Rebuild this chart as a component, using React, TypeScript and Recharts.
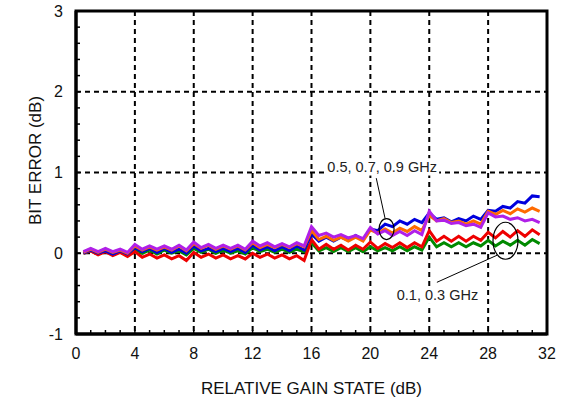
import React from 'react';
import { LineChart, Line, XAxis, YAxis, ReferenceLine, ReferenceDot, ReferenceArea, CartesianGrid } from 'recharts';

const gainState = [0.5,1,1.5,2,2.5,3,3.5,4,4.5,5,5.5,6,6.5,7,7.5,8,8.5,9,9.5,10,10.5,11,11.5,12,12.5,13,13.5,14,14.5,15,15.5,16,16.5,17,17.5,18,18.5,19,19.5,20,20.5,21,21.5,22,22.5,23,23.5,24,24.5,25,25.5,26,26.5,27,27.5,28,28.5,29,29.5,30,30.5,31,31.5];

const err01 = [0.00,0.03,-0.02,0.02,-0.03,0.01,-0.04,0.02,-0.05,-0.01,-0.06,-0.02,-0.07,-0.03,-0.09,0.01,-0.05,-0.01,-0.06,-0.02,-0.07,-0.03,-0.07,0.00,-0.05,-0.01,-0.06,-0.02,-0.07,-0.03,-0.09,0.17,0.05,0.11,0.05,0.10,0.04,0.10,0.05,0.14,0.06,0.12,0.07,0.13,0.07,0.13,0.08,0.28,0.15,0.21,0.15,0.21,0.15,0.21,0.16,0.26,0.19,0.27,0.20,0.28,0.21,0.29,0.23];
const err03 = [0.00,0.03,-0.01,0.03,-0.01,0.02,-0.02,0.05,0.00,0.04,-0.01,0.04,0.00,0.03,-0.02,0.06,0.01,0.05,0.00,0.04,0.00,0.03,-0.01,0.07,0.02,0.05,0.01,0.05,0.01,0.05,0.02,0.13,0.03,0.07,0.02,0.07,0.02,0.07,0.02,0.08,0.03,0.07,0.03,0.08,0.03,0.08,0.04,0.20,0.08,0.13,0.08,0.13,0.08,0.13,0.09,0.16,0.09,0.15,0.10,0.16,0.10,0.17,0.12];
const err05 = [0.00,0.04,0.00,0.03,-0.01,0.03,-0.01,0.07,0.02,0.06,0.01,0.06,0.01,0.05,0.00,0.09,0.03,0.06,0.02,0.06,0.02,0.06,0.01,0.10,0.04,0.08,0.03,0.08,0.03,0.09,0.04,0.24,0.15,0.20,0.15,0.20,0.16,0.22,0.17,0.30,0.28,0.36,0.33,0.40,0.36,0.42,0.38,0.50,0.42,0.44,0.39,0.43,0.40,0.46,0.42,0.53,0.52,0.58,0.56,0.64,0.62,0.71,0.70];
const err07 = [0.01,0.05,0.01,0.05,0.01,0.04,0.00,0.09,0.04,0.08,0.04,0.08,0.04,0.09,0.03,0.12,0.06,0.10,0.05,0.09,0.05,0.09,0.04,0.13,0.07,0.11,0.07,0.11,0.07,0.12,0.08,0.28,0.17,0.21,0.16,0.20,0.15,0.20,0.15,0.29,0.25,0.30,0.25,0.31,0.27,0.33,0.28,0.47,0.40,0.43,0.38,0.40,0.36,0.40,0.36,0.52,0.48,0.53,0.49,0.55,0.51,0.56,0.52];
const err09 = [0.02,0.06,0.02,0.06,0.02,0.05,0.01,0.11,0.05,0.09,0.05,0.09,0.05,0.10,0.04,0.14,0.07,0.11,0.06,0.10,0.06,0.10,0.05,0.15,0.09,0.13,0.08,0.12,0.08,0.13,0.09,0.33,0.22,0.25,0.20,0.23,0.19,0.22,0.18,0.32,0.24,0.28,0.22,0.27,0.22,0.28,0.23,0.52,0.40,0.41,0.37,0.38,0.34,0.36,0.32,0.50,0.45,0.46,0.42,0.44,0.40,0.42,0.38];

const xTicks = [0,1,2,3,4,5,6,7,8,9,10,11,12,13,14,15,16,17,18,19,20,21,22,23,24,25,26,27,28,29,30,31,32];
const yTicks = [-1,-0.8,-0.6,-0.4,-0.2,0,0.2,0.4,0.6,0.8,1,1.2,1.4,1.6,1.8,2,2.2,2.4,2.6,2.8,3];
const xGrid = [4,8,12,16,20,24,28];
const yGrid = [0,1,2];

const data = gainState.map((g, i) => ({
  g,
  f01: err01[i],
  f03: err03[i],
  f05: err05[i],
  f07: err07[i],
  f09: err09[i],
}));

const FONT = '"Liberation Sans", Arial, Helvetica, sans-serif';

const txt = (label: string, size: number, w: number) => (p: any) => (
  <g>
    <rect x={p.cx - w / 2} y={p.cy - size * 0.6} width={w} height={size * 1.2} fill="#fff" />
    <text x={p.cx} y={p.cy} textAnchor="middle" dominantBaseline="central" fontFamily={FONT} fontSize={size} fill="#222">{label}</text>
  </g>
);
const ell = (rx: number, ry: number) => (p: any) => (
  <ellipse cx={p.cx} cy={p.cy} rx={rx} ry={ry} fill="none" stroke="#000" strokeWidth={1.2} />
);

export default function App() {
  return (
    <div style={{ position: 'absolute', left: 0, top: 0, width: 564, height: 402, background: '#fff' }}>
      <LineChart width={564} height={402} data={data} margin={{ top: 11, right: 17, left: 0, bottom: 0 }}>
        <CartesianGrid
          horizontalValues={yGrid}
          verticalValues={xGrid}
          stroke="#000"
          strokeWidth={2}
          strokeDasharray="5 4"
        />
        <XAxis
          dataKey="g"
          type="number"
          domain={[0, 32]}
          ticks={xTicks}
          interval={0}
          height={68}
          tickSize={-4}
          tickMargin={18}
          axisLine={{ stroke: '#000', strokeWidth: 3 }}
          tickLine={{ stroke: '#000', strokeWidth: 1.5 }}
          tick={{ fill: '#111', fontSize: 16, fontFamily: FONT }}
          tickFormatter={(v: number) => (v % 4 === 0 ? String(v) : '')}
          label={{ value: 'RELATIVE GAIN STATE (dB)', position: 'insideBottom', offset: 8, fill: '#111', fontSize: 17, fontFamily: FONT }}
        />
        <XAxis
          xAxisId="top"
          orientation="top"
          type="number"
          domain={[0, 32]}
          ticks={xTicks}
          interval={0}
          height={0}
          tickSize={-4}
          axisLine={{ stroke: '#000', strokeWidth: 3 }}
          tickLine={{ stroke: '#000', strokeWidth: 1.5 }}
          tickFormatter={() => ''}
          allowDataOverflow
        />
        <YAxis
          type="number"
          domain={[-1, 3]}
          ticks={yTicks}
          interval={0}
          width={76}
          tickSize={-4}
          tickMargin={17}
          axisLine={{ stroke: '#000', strokeWidth: 3 }}
          tickLine={{ stroke: '#000', strokeWidth: 1.5 }}
          tick={{ fill: '#111', fontSize: 16, fontFamily: FONT }}
          tickFormatter={(v: number) => (Number.isInteger(v) ? String(v) : '')}
          label={{
            content: (p: any) => {
              const vb = p.viewBox;
              const cx = vb.x + 35;
              const cy = vb.y + vb.height / 2 - 12;
              return (
                <text x={cx} y={cy} transform={`rotate(-90 ${cx} ${cy})`} textAnchor="middle" dominantBaseline="central" fontFamily={FONT} fontSize={17} fill="#111">BIT ERROR (dB)</text>
              );
            },
          }}
        />
        <YAxis
          yAxisId="right"
          orientation="right"
          type="number"
          domain={[-1, 3]}
          ticks={yTicks}
          interval={0}
          width={0}
          tickSize={-4}
          axisLine={{ stroke: '#000', strokeWidth: 3 }}
          tickLine={{ stroke: '#000', strokeWidth: 1.5 }}
          tickFormatter={() => ''}
          allowDataOverflow
        />
        <Line dataKey="f03" stroke="#008a00" strokeWidth={3} dot={false} isAnimationActive={false} />
        <Line dataKey="f01" stroke="#ee0000" strokeWidth={3} dot={false} isAnimationActive={false} />
        <Line dataKey="f05" stroke="#0000dd" strokeWidth={3} dot={false} isAnimationActive={false} />
        <Line dataKey="f07" stroke="#ff6a00" strokeWidth={3} dot={false} isAnimationActive={false} />
        <Line dataKey="f09" stroke="#b020e8" strokeWidth={3} dot={false} isAnimationActive={false} />
        <ReferenceLine segment={[{ x: 20.4, y: 0.93 }, { x: 21.0, y: 0.43 }]} stroke="#000" strokeWidth={1} />
        <ReferenceDot x={21.1} y={0.3} r={8} shape={ell(7.5, 10.5)} />
        <ReferenceDot x={20.8} y={1.07} r={0} shape={txt('0.5, 0.7, 0.9 GHz', 14.5, 114)} />
        <ReferenceLine segment={[{ x: 24.52, y: -0.36 }, { x: 28.6, y: -0.025 }]} stroke="#000" strokeWidth={1} />
        <ReferenceDot x={29.18} y={0.155} r={12} shape={ell(12.5, 18.5)} />
        <ReferenceDot x={24.56} y={-0.52} r={0} shape={txt('0.1, 0.3 GHz', 14.5, 86)} />
        <ReferenceArea x1={0} x2={32} y1={-1} y2={3} fill="none" stroke="#000" strokeWidth={3} ifOverflow="visible" />
      </LineChart>
    </div>
  );
}
